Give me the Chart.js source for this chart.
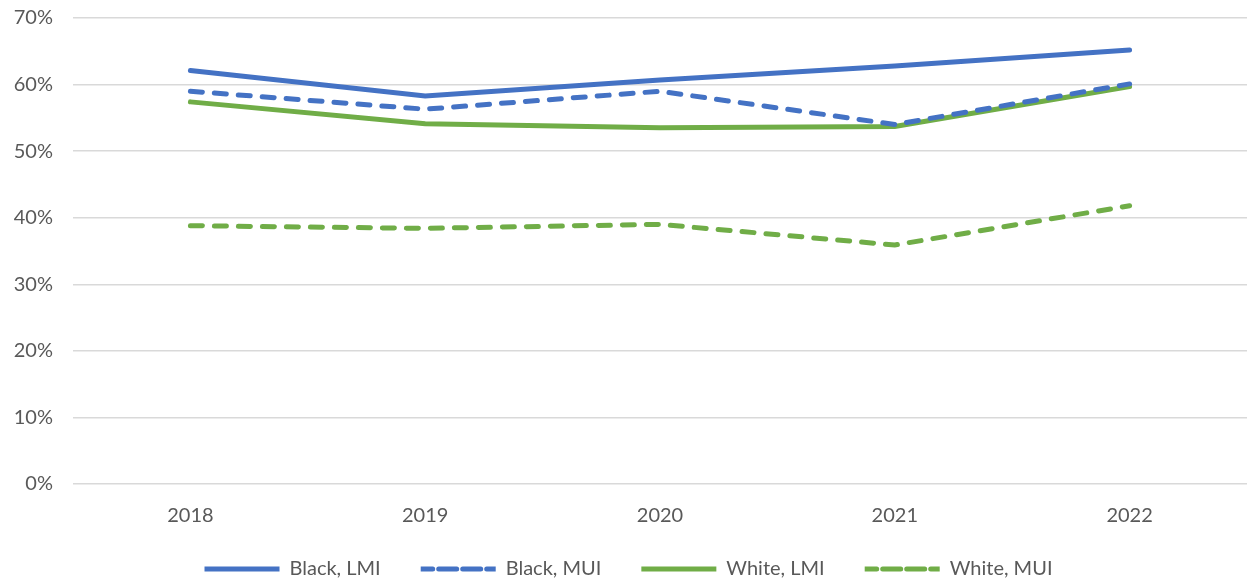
<!DOCTYPE html>
<html>
<head>
<meta charset="utf-8">
<script src="https://cdn.jsdelivr.net/npm/chart.js@4/dist/chart.umd.min.js"></script>
<style>
  html, body { margin: 0; padding: 0; background: #fff; }
  #wrap { width: 1247px; height: 579px; }
</style>
</head>
<body>
<div id="wrap"><canvas id="myChart"></canvas></div>
<script>
// 年ごとの値 (%)
const years = ["2018", "2019", "2020", "2021", "2022"];
const blackLMI = [62.1, 58.3, 60.7, 62.8, 65.2];
const blackMUI = [59.0, 56.3, 59.0, 54.0, 60.1];
const whiteLMI = [57.4, 54.1, 53.5, 53.7, 59.7];
const whiteMUI = [38.8, 38.4, 39.0, 35.9, 41.8];

const blue = "#4472C4";
const green = "#70AD47";
const textColor = "#595959";
const fontFamily = "Lato, 'Open Sans', sans-serif";

function makeSet(label, values, color, dashed) {
    return {
	label: label,
	data: values,
	borderColor: color,
	backgroundColor: color,
	borderWidth: 5,
	borderDash: dashed ? [12, 12] : [],
	borderCapStyle: "round",
	pointRadius: 0,
	fill: false,
	tension: 0,
    };
}

// legendの高さを詰める: layout上は31pxだけ取って、描画範囲は上に広げる
const legendHeight = {
    id: "legendHeight",
    beforeInit(chart) {
	const origFit = chart.legend.fit;
	chart.legend.fit = function () {
	    origFit.bind(chart.legend)();
	    this.height = 31;
	};
    },
    afterLayout(chart) {
	chart.legend.top = chart.legend.bottom - 60;
    }
};

const ctx = document.getElementById("myChart").getContext("2d");
window.myChart = new Chart(ctx, {
    type: "line",
    data: {
	labels: years,
	datasets: [
	    makeSet("Black, LMI", blackLMI, blue, false),
	    makeSet("Black, MUI", blackMUI, blue, true),
	    makeSet("White, LMI", whiteLMI, green, false),
	    makeSet("White, MUI", whiteMUI, green, true),
	]
    },
    plugins: [legendHeight],
    options: {
	responsive: true,
	maintainAspectRatio: false,
	animation: false,
	layout: { padding: { left: 10, right: 0, top: 18, bottom: 0 } },
	plugins: {
	    tooltip: { enabled: false },
	    legend: {
		position: "bottom",
		labels: {
		    color: textColor,
		    font: { family: fontFamily, size: 20 },
		    boxWidth: 75,
		    boxHeight: 0,
		    padding: 40,
		}
	    }
	},
	scales: {
	    x: {
		offset: true,
		grid: { display: false, drawTicks: false },
		border: { display: false },
		ticks: {
		    color: textColor,
		    font: { family: fontFamily, size: 20 },
		    padding: 20,
		}
	    },
	    y: {
		min: 0,
		max: 70,
		grid: { color: "#d9d9d9", lineWidth: 1.5, drawTicks: false },
		border: { display: false },
		ticks: {
		    stepSize: 10,
		    color: textColor,
		    font: { family: fontFamily, size: 20 },
		    padding: 20,
		    callback: function (v) { return v + "%"; }
		},
		afterFit(scale) {
		    scale.width = 63;
		    scale.paddingTop = 0;
		}
	    }
	}
    }
});
</script>
</body>
</html>
